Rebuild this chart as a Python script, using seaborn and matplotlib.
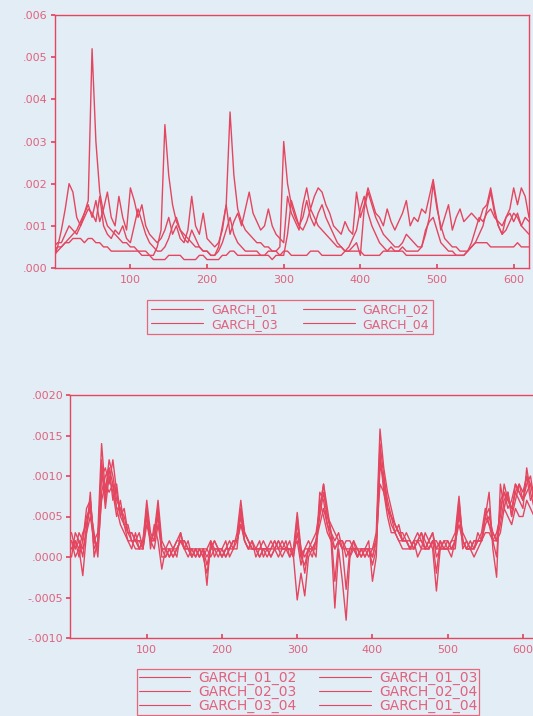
import numpy as np
import pandas as pd
import matplotlib
matplotlib.use("Agg")
import matplotlib.pyplot as plt
import seaborn as sns
from matplotlib.ticker import FuncFormatter

# =========================
# 1. DATA (units of 1e-4, one value every 5 obs)
# =========================
obs = np.arange(0, 621, 5)

garch_01 = [3, 4, 5, 6, 7, 8, 9, 11, 13, 16,
            52, 30, 18, 13, 10, 9, 8, 7, 6, 6,
            5, 5, 4, 4, 4, 3, 3, 5, 9, 34,
            22, 15, 11, 9, 8, 7, 6, 5, 5, 4,
            4, 3, 3, 5, 10, 15, 37, 22, 14, 11,
            9, 8, 7, 6, 6, 5, 5, 4, 4, 5,
            30, 20, 15, 12, 10, 9, 11, 14, 12, 10,
            9, 8, 7, 6, 5, 5, 4, 4, 5, 6,
            3, 14, 18, 15, 12, 10, 8, 7, 6, 5,
            5, 6, 8, 7, 6, 5, 5, 8, 12, 20,
            14, 10, 7, 6, 5, 5, 4, 4, 4, 5,
            6, 8, 10, 14, 18, 13, 10, 8, 9, 11,
            13, 12, 10, 12, 11]
garch_02 = [2, 5, 9, 14, 20, 18, 12, 10, 13, 15,
            12, 16, 11, 14, 18, 12, 10, 17, 12, 9,
            19, 16, 12, 15, 10, 8, 7, 6, 7, 9,
            12, 8, 10, 7, 6, 9, 17, 10, 8, 13,
            7, 6, 5, 6, 9, 15, 8, 11, 13, 10,
            14, 18, 13, 11, 9, 10, 14, 10, 8, 7,
            6, 17, 13, 11, 9, 15, 19, 14, 17, 19,
            18, 15, 13, 10, 9, 8, 11, 9, 8, 18,
            12, 15, 19, 16, 13, 12, 10, 14, 11, 9,
            11, 13, 16, 10, 12, 11, 14, 13, 17, 21,
            15, 9, 12, 15, 9, 12, 14, 11, 12, 13,
            12, 11, 14, 15, 19, 14, 10, 8, 12, 14,
            19, 15, 19, 17, 12]
garch_03 = [4, 5, 5, 6, 6, 7, 7, 7, 6, 7,
            7, 6, 6, 5, 5, 4, 4, 4, 4, 4,
            4, 4, 4, 3, 3, 3, 2, 2, 2, 2,
            3, 3, 3, 3, 2, 2, 2, 2, 3, 3,
            2, 2, 2, 2, 3, 3, 4, 4, 3, 3,
            3, 3, 3, 3, 3, 3, 3, 2, 3, 3,
            4, 4, 3, 3, 3, 3, 3, 4, 4, 4,
            3, 3, 3, 3, 3, 3, 4, 4, 4, 4,
            4, 3, 3, 3, 3, 3, 4, 4, 4, 4,
            4, 4, 3, 3, 3, 3, 3, 3, 3, 3,
            3, 3, 3, 3, 3, 3, 3, 3, 4, 5,
            6, 6, 6, 6, 5, 5, 5, 5, 5, 5,
            5, 6, 5, 5, 5]
garch_04 = [5, 6, 6, 8, 10, 9, 8, 10, 12, 14,
            13, 11, 17, 10, 8, 7, 9, 8, 10, 7,
            6, 10, 14, 11, 8, 6, 5, 4, 4, 5,
            7, 10, 12, 9, 7, 6, 9, 7, 5, 4,
            4, 3, 3, 4, 6, 9, 12, 8, 6, 5,
            4, 4, 4, 4, 3, 3, 4, 4, 4, 3,
            3, 8, 16, 13, 10, 12, 16, 12, 10, 13,
            15, 12, 10, 8, 6, 5, 4, 5, 7, 9,
            14, 17, 13, 10, 8, 6, 5, 4, 5, 4,
            4, 5, 4, 4, 4, 4, 5, 9, 11, 12,
            9, 6, 5, 4, 4, 3, 3, 3, 4, 6,
            9, 12, 11, 13, 14, 12, 11, 10, 12, 13,
            11, 13, 10, 9, 8]

garch_01_02 = [2, 1, 3, 2, 6, 7, 2, 3, 14, 8,
               12, 10, 7, 6, 5, 3, 3, 2, 2, 2,
               7, 3, 2, 5, 1, 1, 0, 1, 2, 3,
               1, 1, 0, 1, 1, 0, 1, 2, 1, 1,
               0, 1, 2, 1, 3, 7, 3, 2, 1, 1,
               1, 1, 0, 1, 2, 1, 1, 2, 0, 1,
               5.5, 1, 0, 1, 2, 3, 6, 9, 6, 3,
               2, 3, 1, 2, 2, 1, 1, 1, 0, 1,
               1, 3, 15.8, 11, 8, 6, 4, 3, 3, 2,
               1, 2, 3, 2, 1, 2, 3, 1, 2, 1,
               1, 2, 3, 7.5, 2, 1, 1, 2, 2, 3,
               6, 4, 2, 3, 5, 9, 7, 6, 8, 7,
               6, 11, 8, 6, 7]
garch_01_03 = [1, 2, 1, 3, 4, 6, 1, 2, 10, 11,
               9, 12, 8, 5, 4, 4, 2, 2, 1, 2,
               5, 2, 3, 7, 2, 1, 1, 0, 1, 2,
               2, 1, 1, 0, 1, 1, 0, 1, 2, 1,
               1, 0, 1, 2, 2, 5, 2, 1, 2, 0,
               1, 2, 1, 0, 1, 2, 1, 1, 1, 0,
               3, 0, 1, 2, 1, 2, 5, 8, 5, 4,
               3, 2, 2, 1, 1, 2, 0, 1, 1, 0,
               1, 2, 12, 9, 6, 5, 3, 4, 2, 3,
               2, 1, 2, 3, 2, 1, 2, 2, 1, 2,
               2, 1, 2, 5, 3, 2, 1, 1, 3, 2,
               4, 5, 3, 2, 4, 7, 8, 5, 9, 8,
               7, 9, 10, 7, 6]
garch_02_03 = [0, 3, 2, 1, 3, 5, 2, 1, 7, 9,
               8, 9, 6, 4, 3, 2, 2, 1, 1, 1,
               4, 2, 1, 4, 1, 0, 1, 0, 1, 2,
               1, 0, 1, 1, 0, 1, 1, 0, 1, 1,
               0, 1, 1, 1, 2, 4, 2, 1, 1, 1,
               0, 1, 1, 1, 1, 0, 1, 1, 0, 1,
               2, -1, 1, 1, 0, 2, 4, 6, 4, 2,
               1, 2, 1, 1, 0, 1, 1, 0, 1, 1,
               0, 2, 9, 8, 5, 3, 3, 2, 2, 2,
               1, 1, 2, 1, 1, 1, 2, 1, 1, 1,
               1, 1, 2, 4, 2, 1, 1, 1, 2, 2,
               3, 3, 2, 2, 3, 6, 5, 4, 6, 5,
               5, 7, 6, 5, 4]
garch_02_04 = [2, 0, 1, -2.3, 3, 8, 0, 2, 11, 6,
               10, 8, 5, 7, 4, 2, 1, 3, 1, 2,
               6, 1, 4, 2, -1.5, 1, 2, 1, 0, 3,
               1, 2, 0, 1, 0, 1, -3.5, 2, 0, 1,
               1, 2, 0, 1, 1, 6, 2, 1, 2, 1,
               2, 0, 1, 1, 2, 1, 0, 1, 2, 0,
               -5.3, -2, -4.8, 0, 1, 0, 7, 5, 3, 2,
               -6.3, 1, -3, -7.8, 0, 2, 1, 0, 1, 2,
               -3, 0, 13, 8, 6, 4, 3, 2, 1, 1,
               1, 2, 0, 1, 3, 2, 1, -4.2, 1, 2,
               1, 0, 2, 6, 1, 2, 1, 0, 1, 2,
               5, 8, 1, -2.5, 9, 6, 8, 5, 7, 9,
               8, 10, 7, 8, 9]
garch_03_04 = [1, 2, 0, 2, 5, 6, 3, 0, 8, 10,
               11, 7, 9, 5, 6, 3, 2, 2, 3, 1,
               5, 2, 2, 6, 0, 0, 1, 1, 1, 2,
               2, 1, 1, 0, 1, 0, -2, 1, 1, 0,
               1, 0, 1, 2, 2, 4, 3, 2, 1, 1,
               0, 1, 1, 2, 1, 1, 2, 1, 1, 1,
               4, 1, -2, 1, 1, 1, 8, 7, 4, 3,
               -3, 2, 1, -4, 1, 1, 0, 1, 1, 1,
               -1, 1, 11, 10, 6, 5, 4, 3, 2, 2,
               2, 1, 2, 3, 1, 1, 2, -2, 2, 1,
               2, 1, 1, 6, 2, 1, 2, 1, 2, 2,
               5, 6, 2, 0, 7, 8, 6, 7, 9, 8,
               7, 8, 9, 7, 8]
garch_01_04 = [3, 1, 2, 0, 4, 7, 2, 1, 12, 7,
               11, 9, 6, 6, 4, 3, 3, 2, 2, 1,
               6, 2, 3, 6, 1, 1, 0, 1, 2, 2,
               1, 1, 0, 1, 0, 1, -1, 1, 2, 1,
               0, 1, 1, 2, 2, 6, 3, 2, 1, 1,
               1, 1, 1, 0, 1, 2, 1, 1, 1, 0,
               5, 0, -1, 1, 1, 2, 6, 9, 5, 3,
               1, 2, 2, 0, 1, 1, 0, 1, 0, 1,
               0, 2, 14, 10, 7, 5, 4, 3, 2, 2,
               1, 2, 2, 2, 1, 2, 3, 0, 1, 1,
               1, 2, 2, 7, 2, 1, 1, 2, 2, 2,
               5, 4, 3, 2, 6, 8, 7, 6, 8, 9,
               7, 10, 9, 8, 6]

top_names = ["GARCH_01", "GARCH_02", "GARCH_03", "GARCH_04"]
bottom_names = ["GARCH_01_02", "GARCH_01_03", "GARCH_02_03",
                "GARCH_02_04", "GARCH_03_04", "GARCH_01_04"]

top_df = pd.DataFrame({"GARCH_01": garch_01, "GARCH_02": garch_02,
                       "GARCH_03": garch_03, "GARCH_04": garch_04},
                      index=obs) * 1e-4
bottom_df = pd.DataFrame({"GARCH_01_02": garch_01_02, "GARCH_01_03": garch_01_03,
                          "GARCH_02_03": garch_02_03, "GARCH_02_04": garch_02_04,
                          "GARCH_03_04": garch_03_04, "GARCH_01_04": garch_01_04},
                         index=obs) * 1e-4

# =========================
# 2. STYLE
# =========================
RED = "#e4465f"
TXT = "#e0627c"
BG = "#e3edf6"

sns.set_theme(style="white")
plt.rcParams["font.family"] = ["DejaVu Sans"]

def eviews_fmt(digits):
    return FuncFormatter(lambda v, p: f"{v:.{digits}f}".replace("0.", ".", 1))

def style_axes(ax):
    ax.set_facecolor(BG)
    for s in ax.spines.values():
        s.set_color(RED)
        s.set_linewidth(1.0)
    ax.tick_params(axis="y", direction="out", length=3, color=RED,
                   labelcolor=TXT, labelsize=8, pad=2, left=True)
    ax.tick_params(axis="x", direction="in", length=3, color=RED,
                   labelcolor=TXT, labelsize=8, pad=5, bottom=True)
    ax.set_xlabel("")
    ax.set_ylabel("")
    ax.grid(False)

def row_major(items, ncol):
    # matplotlib fills legend columns first; the scan reads row by row
    return [items[i] for c in range(ncol) for i in range(c, len(items), ncol)]

fig = plt.figure(figsize=(5.33, 7.16), dpi=100)
fig.patch.set_facecolor(BG)

# =========================
# 3. TOP PANEL
# =========================
ax1 = fig.add_axes([54.5 / 533, 1 - 268 / 716, (529 - 54.5) / 533, (268 - 15) / 716])
sns.lineplot(data=top_df, ax=ax1, palette=[RED] * 4, dashes=False,
             linewidth=1.0, legend=False)
ax1.set_xlim(1, 620)
ax1.set_ylim(0, 0.006)
ax1.set_xticks([100, 200, 300, 400, 500, 600])
ax1.set_yticks([0, 0.001, 0.002, 0.003, 0.004, 0.005, 0.006])
ax1.yaxis.set_major_formatter(eviews_fmt(3))
style_axes(ax1)

h1 = [plt.Line2D([], [], color=RED, lw=0.8) for _ in top_names]
leg1 = fig.legend(row_major(h1, 2), row_major(top_names, 2), loc="center", ncol=2,
                  bbox_to_anchor=(290 / 533, 1 - 317 / 716),
                  fontsize=9, frameon=True, fancybox=False,
                  handlelength=4.2, handletextpad=0.6, columnspacing=2.0,
                  labelspacing=0.1, borderpad=0.3, labelcolor=TXT)
leg1.get_frame().set_edgecolor(RED)
leg1.get_frame().set_facecolor(BG)
leg1.get_frame().set_linewidth(0.9)

# =========================
# 4. BOTTOM PANEL
# =========================
ax2 = fig.add_axes([70 / 533, 1 - 638 / 716, (538 - 70) / 533, (638 - 395) / 716])
sns.lineplot(data=bottom_df, ax=ax2, palette=[RED] * 6, dashes=False,
             linewidth=1.0, legend=False)
ax2.set_xlim(-2, 620)
ax2.set_ylim(-0.001, 0.002)
ax2.set_xticks([100, 200, 300, 400, 500, 600])
ax2.set_yticks([-0.001, -0.0005, 0, 0.0005, 0.001, 0.0015, 0.002])
ax2.yaxis.set_major_formatter(eviews_fmt(4))
style_axes(ax2)

h2 = [plt.Line2D([], [], color=RED, lw=0.8) for _ in bottom_names]
leg2 = fig.legend(row_major(h2, 2), row_major(bottom_names, 2), loc="center", ncol=2,
                  bbox_to_anchor=(308 / 533, 1 - 692 / 716),
                  fontsize=10, frameon=True, fancybox=False,
                  handlelength=3.7, handletextpad=0.6, columnspacing=1.6,
                  labelspacing=0.0, borderpad=0.15, labelcolor=TXT)
leg2.get_frame().set_edgecolor(RED)
leg2.get_frame().set_facecolor(BG)
leg2.get_frame().set_linewidth(0.9)

fig.savefig("out.png", dpi=100, facecolor=BG)
